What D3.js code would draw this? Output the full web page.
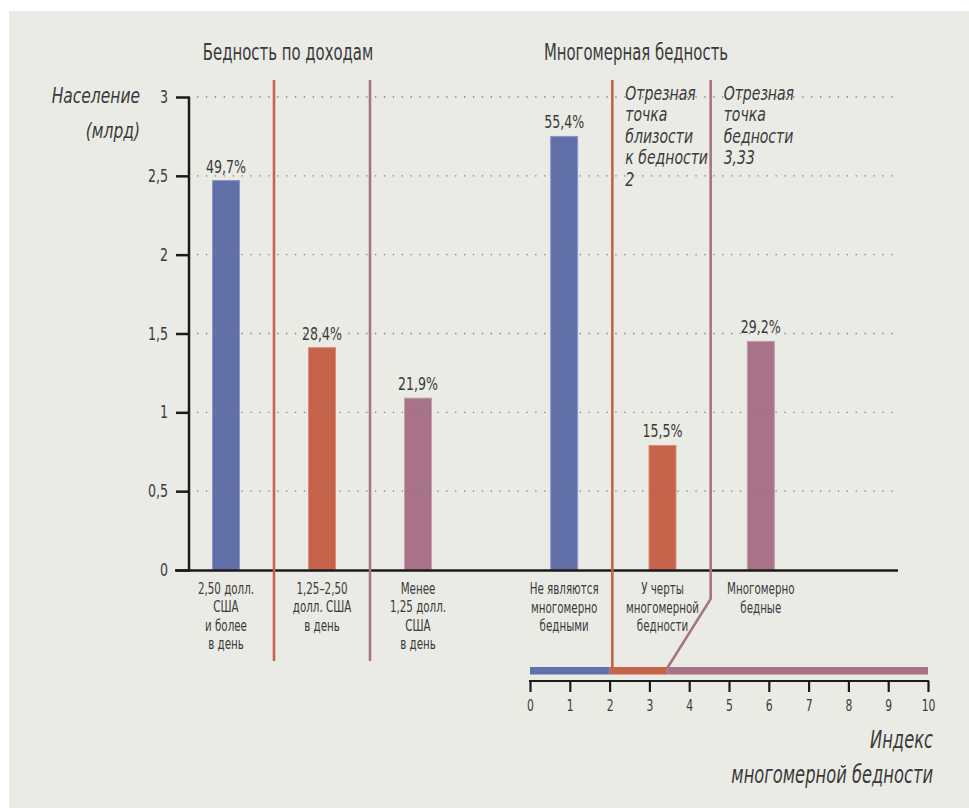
<!DOCTYPE html>
<html><head><meta charset="utf-8">
<script src="https://cdn.jsdelivr.net/npm/d3@7"></script>
<style>
body{margin:0;background:#fff}
text{font-family:"DejaVu Sans Condensed","DejaVu Sans","Noto Sans",sans-serif;fill:#3a3a3a}
</style></head>
<body><svg id="chart" width="969" height="808"></svg>
<script>
// ---- data ----
const incomeCategories = [["2,50 долл.","США","и более","в день"],["1,25–2,50","долл. США","в день"],["Менее","1,25 долл.","США","в день"]];
const incomeValues = [2.47, 1.41, 1.09];
const incomeShares = ["49,7%","28,4%","21,9%"];
const mpiCategories = [["Не являются","многомерно","бедными"],["У черты","многомерной","бедности"],["Многомерно","бедные"]];
const mpiValues = [2.75, 0.79, 1.45];
const mpiShares = ["55,4%","15,5%","29,2%"];
const yTicks = [0, 0.5, 1, 1.5, 2, 2.5, 3];
const yTickLabels = ["0","0,5","1","1,5","2","2,5","3"];
const indexTicks = [0,1,2,3,4,5,6,7,8,9,10];
const indexBreaks = [0, 2, 3.45, 10];
const cutoffNotes = [["Отрезная","точка","близости","к бедности","2"],["Отрезная","точка","бедности","3,33"]];
const groupTitles = ["Бедность по доходам","Многомерная бедность"];
const yTitle = ["Население","(млрд)"];
const xTitle = ["Индекс","многомерной бедности"];
const colors = ["#6270aa","#c5644a","#a87389"];
const outlines = ["#8c96c6","#dc8c74","#c49aad"];

const svg = d3.select("#chart");
svg.append("rect").attr("x",9).attr("y",11).attr("width",960).attr("height",797).attr("fill","#ebebe6");

const y = d3.scaleLinear().domain([0,3]).range([570,97]);
const xInc = d3.scaleBand().domain(d3.range(3)).range([178,466]);
const xMpi = d3.scaleBand().domain(d3.range(3)).range([515,810]);
const xIdx = d3.scaleLinear().domain([0,10]).range([530,928]);
const barW = 27;

// horizontal condensing about an anchor x
function squeeze(sel, f, ax){
  sel.attr("transform", `translate(${ax},0) scale(${f},1) translate(${-ax},0)`);
}

// titles
[[288,0],[636,1]].forEach(([x,i])=>{
  const t = svg.append("text").attr("x",x).attr("y",60).attr("text-anchor","middle").attr("font-size",23).text(groupTitles[i]);
  squeeze(t, 0.72, x);
});

// y title
const yt = svg.append("text").attr("text-anchor","end").attr("font-size",21).attr("font-style","italic");
yTitle.forEach((l,j)=>yt.append("tspan").attr("x",140).attr("y",103+j*35).text(l));
squeeze(yt, 0.82, 140);

// bars
function drawBars(xs, vals, shares){
  vals.forEach((v,i)=>{
    const cx = xs(i) + xs.bandwidth()/2;
    svg.append("rect").attr("x",cx-barW/2).attr("y",y(v)).attr("width",barW).attr("height",y(0)-y(v))
      .attr("fill",colors[i]).attr("stroke",outlines[i]).attr("stroke-width",1);
    const t = svg.append("text").attr("x",cx).attr("y",y(v)-8).attr("text-anchor","middle").attr("font-size",17.5).text(shares[i]);
    squeeze(t, 0.8, cx);
  });
}
drawBars(xInc, incomeValues, incomeShares);
drawBars(xMpi, mpiValues, mpiShares);

// gridlines
yTicks.filter(d=>d>0).forEach(t=>{
  svg.append("line").attr("x1",197).attr("x2",895).attr("y1",y(t)).attr("y2",y(t))
    .attr("stroke","#7d7d7d").attr("stroke-width",1.3).attr("stroke-dasharray","1.3 7.6");
});

// y axis
const yAxis = d3.axisLeft(y).tickValues(yTicks).tickFormat((d,i)=>yTickLabels[i]).tickSize(14).tickPadding(8);
const ga = svg.append("g").attr("transform","translate(190,0)").call(yAxis);
ga.select(".domain").remove();
ga.selectAll(".tick line").attr("stroke","#1a1a1a").attr("stroke-width",2.5);
ga.selectAll(".tick text").attr("font-size",17.5).attr("font-family",null).attr("fill","#3a3a3a")
  .attr("transform","translate(-22,0) scale(0.8,1) translate(22,0)");
svg.append("line").attr("x1",189).attr("x2",189).attr("y1",y(3)).attr("y2",y(0)).attr("stroke","#1a1a1a").attr("stroke-width",2.5);
svg.append("line").attr("x1",175).attr("x2",898).attr("y1",y(0)+0.5).attr("y2",y(0)+0.5).attr("stroke","#1a1a1a").attr("stroke-width",2.5);

// income separators
[1,2].forEach(i=>{
  svg.append("line").attr("x1",xInc(i)).attr("x2",xInc(i)).attr("y1",80).attr("y2",661)
    .attr("stroke",colors[i]).attr("stroke-width",2.6);
});

// category labels
function drawCats(xs, cats, lh){
  cats.forEach((lines,i)=>{
    const cx = xs(i)+xs.bandwidth()/2;
    lines.forEach((l,j)=>{
      const t = svg.append("text").attr("text-anchor","middle").attr("font-size",15.5)
        .attr("x",cx).attr("y",594+j*lh).text(l);
      squeeze(t, 0.74, cx);
    });
  });
}
drawCats(xInc, incomeCategories, 18.3);
drawCats(xMpi, mpiCategories, 18.6);

// index band
for(let k=0;k<3;k++){
  svg.append("rect").attr("x",xIdx(indexBreaks[k])).attr("y",667).attr("width",xIdx(indexBreaks[k+1])-xIdx(indexBreaks[k]))
    .attr("height",7.5).attr("fill",colors[k]);
}
// connectors from cut-off lines to index band
svg.append("path").attr("d",d3.line()([[xMpi(1)-1,80],[xMpi(1)-1,668]]))
  .attr("fill","none").attr("stroke",colors[1]).attr("stroke-width",2.6);
svg.append("path").attr("d",d3.line()([[xMpi(2)-1,80],[xMpi(2)-1,599],[xIdx(indexBreaks[2]),668]]))
  .attr("fill","none").attr("stroke",colors[2]).attr("stroke-width",2.6);

// cut-off notes
cutoffNotes.forEach((lines,i)=>{
  const x0 = xMpi(i+1)+12;
  const t = svg.append("text").attr("font-size",19.5).attr("font-style","italic");
  lines.forEach((l,j)=>t.append("tspan").attr("x",x0).attr("y",100+j*21.4).text(l));
  squeeze(t, 0.8, x0);
});

// index axis
const xAxis = d3.axisBottom(xIdx).tickValues(indexTicks).tickFormat(d3.format("d")).tickSize(11).tickPadding(8);
const gx = svg.append("g").attr("transform","translate(0,681)").call(xAxis);
gx.select(".domain").remove();
gx.selectAll(".tick line").attr("stroke","#1a1a1a").attr("stroke-width",2.2);
gx.selectAll(".tick text").attr("font-size",15).attr("font-family",null).attr("fill","#3a3a3a")
  .attr("transform","scale(0.8,1)");
svg.append("line").attr("x1",xIdx(0)-1).attr("x2",xIdx(10)+1).attr("y1",681).attr("y2",681).attr("stroke","#1a1a1a").attr("stroke-width",2.2);

// index title
const xt = svg.append("text").attr("text-anchor","end").attr("font-size",24.5).attr("font-style","italic");
xTitle.forEach((l,j)=>xt.append("tspan").attr("x",933).attr("y",748+j*35).text(l));
squeeze(xt, 0.74, 933);
</script></body></html>
